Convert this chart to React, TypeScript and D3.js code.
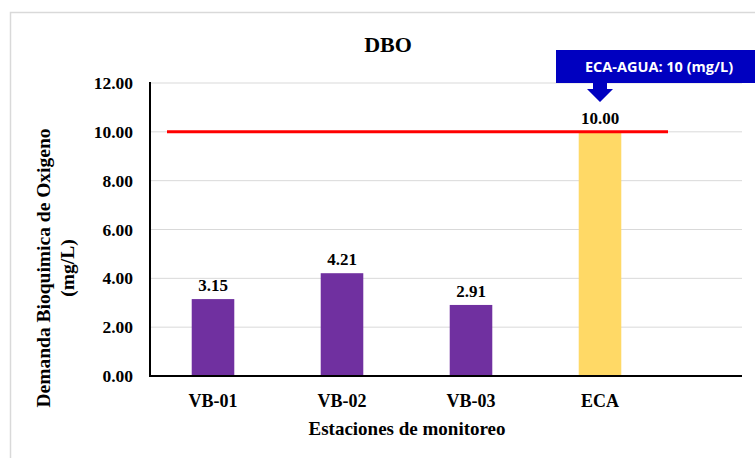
import React from "react";
import * as d3 from "d3";

const categories = ["VB-01", "VB-02", "VB-03", "ECA"];
const values = [3.15, 4.21, 2.91, 10.0];
const barColors = ["#7030A0", "#7030A0", "#7030A0", "#FFD966"];
const limitValue = 10;
const yTicks = [0, 2, 4, 6, 8, 10, 12];
const title = "DBO";
const xTitle = "Estaciones de monitoreo";
const yTitle1 = "Demanda Bioquimica de Oxigeno";
const yTitle2 = "(mg/L)";
const calloutText = "ECA-AGUA: 10 (mg/L)";

export default function App() {
  const W = 755, H = 458;
  const left = 150, right = 742, top = 83, bottom = 376;
  const y = d3.scaleLinear().domain([0, 12]).range([bottom, top]);
  const x = d3.scaleBand<string>().domain(categories).range([148.5, 664.5]).padding(0);
  const bw = x.bandwidth() * 0.33;
  const serif = "Liberation Serif, DejaVu Serif, serif";
  const cx = (c: string) => (x(c) as number) + x.bandwidth() / 2;
  const ecaX = cx("ECA");
  const ly = y(limitValue);
  return (
    <svg width={W} height={H} style={{ position: "absolute", left: 0, top: 0, background: "#fff" }}>
      <rect x={10.5} y={12.5} width={800} height={500} fill="#fff" stroke="#d9d9d9" strokeWidth={1.5} />
      <text x={388} y={52} textAnchor="middle" style={{ fontFamily: serif }} fontWeight="bold" fontSize={22}>{title}</text>
      {yTicks.map((t) => (
        <g key={t}>
          {t > 0 && <line x1={left} x2={right} y1={y(t)} y2={y(t)} stroke="#d9d9d9" strokeWidth={1} />}
          <text x={133} y={y(t) + 6} textAnchor="end" style={{ fontFamily: serif }} fontWeight="bold" fontSize={17.5}>{t.toFixed(2)}</text>
        </g>
      ))}
      {categories.map((c, i) => (
        <g key={c}>
          <rect x={cx(c) - bw / 2} y={y(values[i])} width={bw} height={bottom - y(values[i])} fill={barColors[i]} />
          <text x={cx(c)} y={y(values[i]) - 8} textAnchor="middle" style={{ fontFamily: serif }} fontWeight="bold" fontSize={17}>{values[i].toFixed(2)}</text>
          <text x={cx(c)} y={407} textAnchor="middle" style={{ fontFamily: serif }} fontWeight="bold" fontSize={18}>{c}</text>
        </g>
      ))}
      <line x1={167} x2={668} y1={ly} y2={ly} stroke="#FF0000" strokeWidth={3} />
      <line x1={left} x2={right} y1={bottom} y2={bottom} stroke="#000" strokeWidth={2} />
      <line x1={left} x2={left} y1={top - 1} y2={bottom + 1} stroke="#000" strokeWidth={2} />
      <text x={407} y={435} textAnchor="middle" style={{ fontFamily: serif }} fontWeight="bold" fontSize={19}>{xTitle}</text>
      <g transform="translate(50,268) rotate(-90)">
        <text x={0} y={0} textAnchor="middle" style={{ fontFamily: serif }} fontWeight="bold" fontSize={19.5}>{yTitle1}</text>
        <text x={0} y={24} textAnchor="middle" style={{ fontFamily: serif }} fontWeight="bold" fontSize={19.5}>{yTitle2}</text>
      </g>
      <rect x={556} y={50} width={200} height={33} fill="#0000C0" />
      <text x={659} y={72} textAnchor="middle" fill="#fff" style={{ fontFamily: "Open Sans, sans-serif" }} fontWeight="bold" fontSize={14.5}>{calloutText}</text>
      <path d={`M${ecaX - 7},82 L${ecaX + 7},82 L${ecaX + 7},89 L${ecaX + 13},89 L${ecaX},102 L${ecaX - 13},89 L${ecaX - 7},89 Z`} fill="#0000C0" />
    </svg>
  );
}
